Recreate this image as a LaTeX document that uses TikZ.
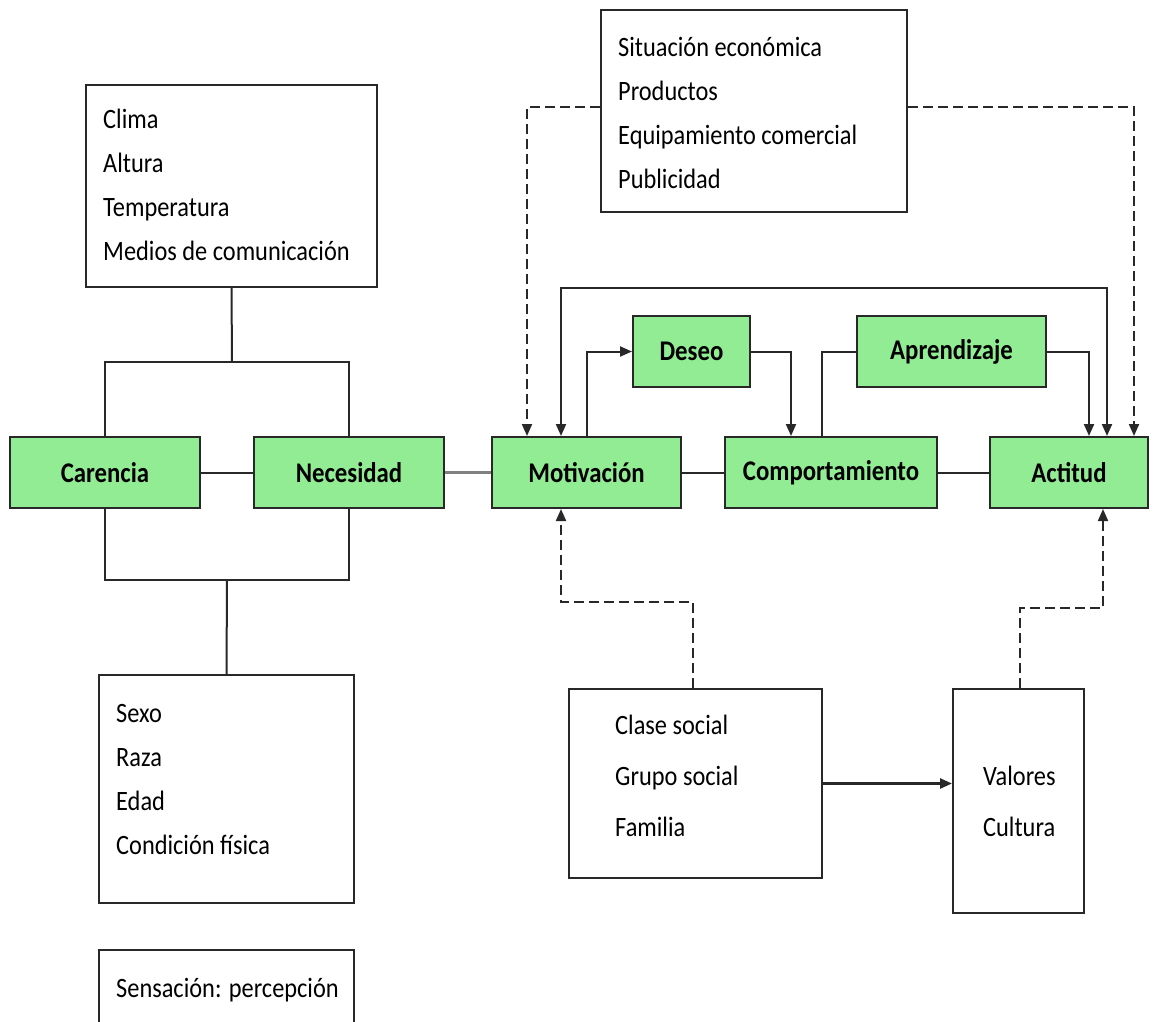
\documentclass[tikz,border=0pt]{standalone}
\usepackage{fontspec}
\setmainfont{Carlito}[FakeStretch=0.87]
\usetikzlibrary{arrows.meta}
\definecolor{lg}{RGB}{146,236,148}
\definecolor{gl}{RGB}{128,128,128}
\definecolor{dk}{RGB}{40,40,40}
\begin{document}
\begin{tikzpicture}[x=1pt,y=-1pt,
  font=\fontsize{28}{34}\selectfont,
  box/.style={draw=dk, line width=2pt, inner sep=0pt},
  gbox/.style={box, fill=lg, font=\fontsize{28.5}{34}\selectfont\bfseries},
  txt/.style={anchor=base west, inner sep=0pt},
  ln/.style={line width=2pt, dk},
  dsh/.style={line width=2pt, dk, dash pattern=on 10pt off 5pt},
  arr/.style={-{Triangle[length=12pt,width=10pt]}},
  arrb/.style={{Triangle[length=12pt,width=10pt]}-{Triangle[length=12pt,width=10pt]}}]
\clip (0,0) rectangle (1165,1021);
\fill[white] (0,0) rectangle (1165,1021);
% white boxes
\node[box, minimum width=291pt, minimum height=202pt] (clima) at (231.5,186) {};
\node[box, minimum width=306pt, minimum height=202pt] (sit) at (754,111) {};
\node[box, minimum width=253pt, minimum height=189pt] (clase) at (695.5,783.5) {};
\node[box, minimum width=131pt, minimum height=224pt] (valores) at (1018.5,801) {};
\node[box, minimum width=255pt, minimum height=228pt] (sexo) at (226.5,789) {};
\node[box, minimum width=255pt, minimum height=90pt] (sens) at (226.5,995) {};
% green boxes
\node[gbox, minimum width=190pt, minimum height=71pt] (carencia) at (105,472.5) {Carencia};
\node[gbox, minimum width=190pt, minimum height=71pt] (necesidad) at (349,472.5) {Necesidad};
\node[gbox, minimum width=189pt, minimum height=71pt] (motivacion) at (586.5,472.5) {Motivación};
\node[gbox, minimum width=212pt, minimum height=71pt] (comport) at (831,472.5) {Comportamiento};
\node[gbox, minimum width=158pt, minimum height=71pt] (actitud) at (1069,472.5) {Actitud};
\node[gbox, minimum width=117pt, minimum height=71pt] (deseo) at (691.5,351.5) {Deseo};
\node[gbox, minimum width=189pt, minimum height=71pt] (aprend) at (951.5,351.5) {Aprendizaje};
% texts
\foreach \t [count=\i] in {Clima,Altura,Temperatura,Medios de comunicación}
  \node[txt] (climat\i) at (103,{128+44*(\i-1)}) {\t};
\foreach \t [count=\i] in {Situación económica,Productos,Equipamiento comercial,Publicidad}
  \node[txt] (sitt\i) at (618,{56+44*(\i-1)}) {\t};
\foreach \t [count=\i] in {Clase social,Grupo social,Familia}
  \node[txt] (claset\i) at (615,{734+51*(\i-1)}) {\t};
\foreach \t [count=\i] in {Valores,Cultura}
  \node[txt] (valt\i) at (983,{785+51*(\i-1)}) {\t};
\foreach \t [count=\i] in {Sexo,Raza,Edad,Condición física}
  \node[txt] (sexot\i) at (116,{722+44*(\i-1)}) {\t};
\node[txt] (senst) at (116,997) {Sensación: percepción};
% coordinates
\coordinate (jt) at (232,362);
\coordinate (jb) at (227,580);
\coordinate (loopy) at (800,288);
\coordinate (m1) at (620,602);
\coordinate (a1) at (1060,608);
% left connectors
\draw[ln] (clima.south) -- (jt);
\draw[ln] (carencia.north) |- (jt) -| (necesidad.north);
\draw[ln] (carencia.south) |- (jb) -| (necesidad.south);
\draw[ln] (jb) -- (sexo.north);
\draw[ln] (carencia.east) -- (necesidad.west);
\draw[line width=3.5pt, gl] (necesidad.east) -- (motivacion.west);
\draw[ln] (motivacion.east) -- (comport.west);
\draw[ln] (comport.east) -- (actitud.west);
% dashed from top box
\draw[dsh,arr] ([yshift=4pt]sit.west) -| ([xshift=-59.5pt]motivacion.north);
\draw[dsh,arr] ([yshift=4pt]sit.east) -| ([xshift=65pt]actitud.north);
% loop
\draw[ln,arrb] ([xshift=-25.5pt]motivacion.north) |- (loopy) -| ([xshift=38pt]actitud.north);
\draw[ln,arr] ([xshift=0.5pt]motivacion.north) |- (deseo.west);
\draw[ln,arr] (deseo.east) -| ([xshift=-40pt]comport.north);
\draw[ln] ([xshift=-9pt]comport.north) |- (aprend.west);
\draw[ln,arr] (aprend.east) -| ([xshift=20pt]actitud.north);
% bottom
\draw[dsh,arr] ([xshift=-2.5pt]clase.north) |- (m1) -| ([xshift=-25.5pt]motivacion.south);
\draw[ln,line width=2.5pt,arr] (clase.east) -- (clase.east -| valores.west);
\draw[dsh,arr] ([xshift=1.5pt]valores.north) |- (a1) -| ([xshift=34pt]actitud.south);
\end{tikzpicture}
\end{document}
